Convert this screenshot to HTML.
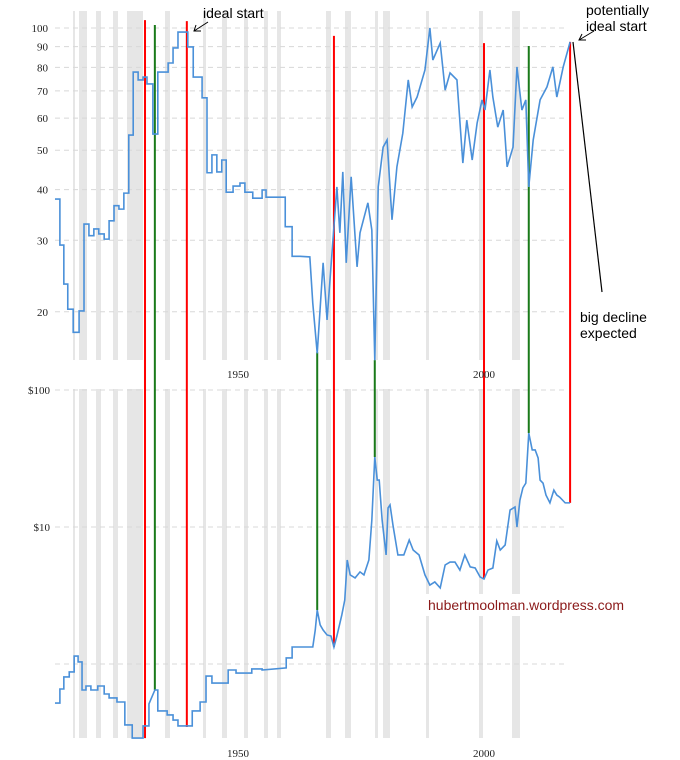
<!DOCTYPE html>
<html><head><meta charset="utf-8"><style>
html,body{margin:0;padding:0;background:#fff;}
svg{display:block;}
</style></head><body>
<svg id="chart" width="680" height="760" xmlns="http://www.w3.org/2000/svg">
<g id="bands"></g>
<g id="grid"></g>
<g id="vlines"></g>
<g id="series"></g>
<g id="labels"></g>
<g>
 <text x="203" y="18" font-family="Liberation Sans, sans-serif" font-size="14" fill="#000">ideal start</text>
 <line x1="208" y1="22" x2="194" y2="31" stroke="#000" stroke-width="1"/>
 <polyline points="196,25 194,31 201,31" fill="none" stroke="#000" stroke-width="1"/>
 <text x="586" y="15" font-family="Liberation Sans, sans-serif" font-size="14" fill="#000">potentially</text>
 <text x="586" y="31" font-family="Liberation Sans, sans-serif" font-size="14" fill="#000">ideal start</text>
 <line x1="594" y1="31" x2="579" y2="40" stroke="#000" stroke-width="1"/>
 <polyline points="582,34 579,40 586,40" fill="none" stroke="#000" stroke-width="1"/>
 <line x1="573" y1="42" x2="602" y2="292" stroke="#000" stroke-width="1.2"/>
 <text x="580" y="322" font-family="Liberation Sans, sans-serif" font-size="14" fill="#000">big decline</text>
 <text x="580" y="338" font-family="Liberation Sans, sans-serif" font-size="14" fill="#000">expected</text>
 <rect x="424" y="594" width="212" height="22" fill="#fff"/>
 <text x="428" y="610" font-family="Liberation Sans, sans-serif" font-size="14" fill="#8b1a1a">hubertmoolman.wordpress.com</text>
</g>
</svg>
<script>
const bandStartX = [73,79,96,113,127,165,203,222,244,264,277,326,345,375,383,426,479,512];
const bandEndX   = [75,87,101,118,143,170,206,227,248,268,281,331,351,378,390,429,483,520];
const topYears = [1912.8,1913.8,1913.8,1914.6,1914.6,1915.4,1915.4,1916.5,1916.5,1917.7,1917.7,1918.7,1918.7,1919.7,1919.7,1920.7,1920.7,1921.7,1921.7,1922.8,1922.8,1923.8,1923.8,1924.8,1924.8,1925.8,1925.8,1926.8,1926.8,1927.8,1927.8,1928.7,1928.7,1929.7,1929.7,1930.7,1930.7,1931.5,1931.5,1932.7,1932.7,1933.7,1933.7,1935.8,1935.8,1936.8,1936.8,1937.8,1937.8,1939.8,1939.8,1940.9,1940.9,1942.7,1942.7,1943.7,1943.7,1944.7,1944.7,1945.7,1945.7,1946.7,1946.7,1947.6,1947.6,1949.0,1949.0,1950.4,1950.4,1951.4,1951.4,1953.0,1953.0,1954.9,1954.9,1955.7,1955.7,1959.6,1959.6,1961.0,1961.0,1962.6,1964.6,1965.2,1966.1,1967.3,1968.1,1969.3,1970.1,1970.7,1971.3,1972.0,1973.0,1974.2,1974.8,1976.4,1977.2,1977.8,1978.5,1979.5,1980.3,1981.3,1982.3,1983.5,1984.6,1985.4,1986.4,1988.0,1989.0,1989.6,1991.1,1992.1,1993.1,1994.5,1995.7,1996.5,1997.6,1998.6,1999.6,2000.2,2001.2,2001.8,2002.8,2003.9,2004.7,2005.9,2006.7,2007.7,2008.5,2009.1,2010.0,2011.4,2012.8,2014.0,2014.8,2016.1,2017.5];
const topValues = [37.9,37.9,29.2,29.2,23.4,23.4,20.3,20.3,17.8,17.8,20.1,20.1,32.9,32.9,30.8,30.8,32.0,32.0,31.1,31.1,30.2,30.2,33.5,33.5,36.5,36.5,35.8,35.8,39.2,39.2,54.5,54.5,77.9,77.9,74.5,74.5,75.7,75.7,72.8,72.8,54.8,54.8,77.9,77.9,82,82,89.3,89.3,97.7,97.7,89.8,89.8,75.7,75.7,67.3,67.3,44,44,48.7,48.7,44.2,44.2,47.3,47.3,39.4,39.4,40.8,40.8,41.5,41.5,39.4,39.4,38.1,38.1,39.9,39.9,38.3,38.3,32.4,32.4,27.4,27.4,27.3,21.0,15.8,26.4,19.1,30.1,40.6,31.3,44.2,26.4,43,25.8,31.3,37.1,31.8,15.2,40.6,50.9,53,33.7,45.5,55.1,74.5,63.9,67.6,78.8,100,83.4,91.8,70.3,77.5,74.5,46.5,59.3,47.3,58.3,66.5,62.8,78.8,67.6,57,62.8,45.5,50.9,80.2,62.8,66.5,40.6,53,66.5,71.6,80.2,67.6,80.2,92.4];
const botYears = [1912.8,1913.8,1913.8,1914.6,1914.6,1915.7,1915.7,1916.7,1916.7,1917.5,1917.5,1918.3,1918.3,1919.1,1919.1,1920.1,1920.1,1921.5,1921.5,1922.8,1922.8,1923.8,1923.8,1925.4,1925.4,1927.0,1927.0,1928.5,1928.5,1930.7,1930.7,1931.9,1931.9,1933.1,1933.7,1933.7,1935.6,1935.6,1936.8,1936.8,1937.8,1937.8,1940.7,1940.7,1942.3,1942.3,1943.5,1943.5,1944.7,1944.7,1948.0,1948.0,1949.6,1949.6,1952.8,1952.8,1954.9,1954.9,1959.8,1959.8,1961.0,1961.0,1965.2,1965.7,1966.1,1966.7,1967.3,1968.1,1968.9,1969.5,1970.1,1971.1,1971.7,1972.2,1972.8,1973.8,1974.8,1975.6,1976.6,1977.2,1977.8,1978.3,1978.7,1979.3,1980.1,1980.5,1980.9,1981.5,1982.5,1983.7,1984.8,1985.6,1986.8,1988.0,1989.0,1990.0,1991.1,1992.1,1993.1,1994.1,1995.1,1996.1,1997.2,1998.2,1999.2,2000.0,2000.8,2001.8,2002.6,2003.3,2004.3,2005.3,2006.3,2006.7,2007.3,2007.9,2008.5,2009.1,2009.8,2010.4,2011.0,2011.4,2012.0,2012.6,2013.4,2014.2,2014.8,2015.4,2016.5,2017.5];
const botValues = [0.519,0.519,0.657,0.657,0.804,0.804,0.875,0.875,1.143,1.143,1.035,1.035,0.646,0.646,0.691,0.691,0.646,0.646,0.691,0.691,0.604,0.604,0.565,0.565,0.528,0.528,0.359,0.359,0.288,0.288,0.353,0.353,0.511,0.646,0.646,0.454,0.454,0.425,0.425,0.390,0.390,0.353,0.353,0.454,0.454,0.528,0.528,0.817,0.817,0.726,0.726,0.904,0.904,0.859,0.859,0.920,0.920,0.904,0.936,1.107,1.107,1.331,1.331,1.770,2.477,1.928,1.770,1.629,1.601,1.331,1.601,2.28,2.93,5.74,4.47,4.25,4.70,4.47,5.74,11.2,32.4,22.0,22.0,11.2,6.25,13.8,14.5,10.3,6.25,6.25,8.04,6.79,6.25,4.47,3.77,3.97,3.59,5.28,5.55,5.55,4.85,6.25,5.11,5.02,4.32,4.17,4.85,5.02,7.91,6.79,7.39,13.3,14.0,10.0,15.7,19.3,20.9,48.5,36.5,36.5,31.9,22.0,20.9,17.1,15.0,18.6,17.1,16.5,15.0,15.0];
const markerYears = [1931.1,1933.1,1939.6,1966.1,1969.5,1977.8,2000.0,2009.1,2017.5];
const markerTops = [104.6,101.7,104,15.9,95.6,15.2,91.8,90.3,92.4];
const markerBottoms = [0.288,0.646,0.347,2.48,1.33,32.4,4.17,48.5,15.0];
const markerColors = ['red','green','red','green','red','green','red','green','red'];
const topTicks = [100,90,80,70,60,50,40,30,20];
const topTickLabels = ['100','90','80','70','60','50','40','30','20'];
const botTicks = [100,10,1];
const botTickLabels = ['$100','$10',''];
const xTicks = [1950,2000];

const NS='http://www.w3.org/2000/svg';
const xS = yr => 238 + (yr-1950)*4.92;
const yTop = v => 28 + 406*Math.log10(100/v);
const yBot = v => 390 + 137*Math.log10(100/v);
function mk(tag, attrs, parent){const e=document.createElementNS(NS,tag);for(const k in attrs)e.setAttribute(k,attrs[k]);parent.appendChild(e);return e;}
const gB=document.getElementById('bands'),gG=document.getElementById('grid'),gV=document.getElementById('vlines'),gS=document.getElementById('series'),gL=document.getElementById('labels');
bandStartX.forEach((x0,i)=>{
  [[11,360],[389,738]].forEach(([a,b])=>{
    const r=mk('rect',{x:x0,y:a,width:bandEndX[i]-x0,height:b-a,fill:'#e6e6e6'},gB);
    
    
  });
});
topTicks.forEach((v,i)=>{
  const y=yTop(v);
  const l=mk('line',{x1:55,x2:568,y1:y,y2:y,stroke:'#d8d8d8','stroke-dasharray':'5,4'},gG);
  
  
  const t=mk('text',{x:48,y:y+4,'text-anchor':'end','font-family':'Liberation Serif, serif','font-size':'11',fill:'#222'},gL);
  t.textContent=topTickLabels[i];
  
  
});
botTicks.forEach((v,i)=>{
  const y=yBot(v);
  const l=mk('line',{x1:55,x2:568,y1:y,y2:y,stroke:'#d8d8d8','stroke-dasharray':'5,4'},gG);
  
  
  const t=mk('text',{x:50,y:y+4,'text-anchor':'end','font-family':'Liberation Serif, serif','font-size':'11',fill:'#222'},gL);
  t.textContent=botTickLabels[i];
  
  
});
xTicks.forEach(yr=>{
  [378,757].forEach(y=>{
    const t=mk('text',{x:xS(yr),y:y,'text-anchor':'middle','font-family':'Liberation Serif, serif','font-size':'11',fill:'#222'},gL);
    t.textContent=String(yr);
    
    
  });
});
markerYears.forEach((yr,i)=>{
  const l=mk('line',{x1:xS(yr),x2:xS(yr),y1:yTop(markerTops[i]),y2:yBot(markerBottoms[i]),stroke:markerColors[i]==='red'?'#ff0000':'#1a7a1a','stroke-width':2},gV);
  
  
});
const pTop=mk('polyline',{points:topYears.map((y,i)=>xS(y)+','+yTop(topValues[i])).join(' '),fill:'none',stroke:'#4a90d9','stroke-width':1.6},gS);


const pBot=mk('polyline',{points:botYears.map((y,i)=>xS(y)+','+yBot(botValues[i])).join(' '),fill:'none',stroke:'#4a90d9','stroke-width':1.6},gS);


</script>
</body></html>
